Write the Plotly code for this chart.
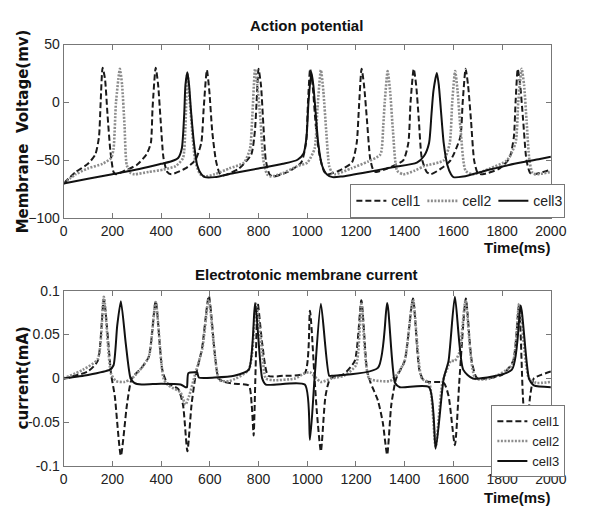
import plotly.graph_objects as go

# ---------------- Action potential (mV) ----------------
t_ap_cell1 = [0, 50, 100, 130, 145, 152, 160, 170, 180, 192, 205, 215, 250, 300, 340, 358, 365, 378, 388, 398, 410, 425, 442,
              500, 540, 565, 575, 588, 598, 610, 625, 640, 655, 720, 770, 785, 792, 800, 810, 820, 830, 845, 860,
              920, 975, 995, 1003, 1012, 1022, 1035, 1050, 1070, 1085, 1130, 1183, 1203, 1212, 1223, 1233, 1245, 1258, 1270, 1282,
              1340, 1394, 1415, 1424, 1437, 1447, 1458, 1470, 1490, 1507, 1550, 1588, 1628, 1638, 1650, 1660, 1672, 1685, 1700, 1720,
              1790, 1830, 1848, 1855, 1864, 1874, 1886, 1900, 1915, 1930, 2000]
v_ap_cell1 = [-70, -60, -53, -45, -30, 0, 30, 20, -10, -42, -60, -62, -59, -54, -45, -35, -5, 30, 15, -15, -48, -60, -62,
              -57, -50, -35, -5, 28, 10, -25, -50, -61, -63, -57, -45, -25, 0, 29, 15, -20, -50, -62, -64,
              -60, -52, -35, 0, 29, 15, -20, -45, -60, -62, -59, -52, -35, -5, 29, 15, -15, -48, -58, -60,
              -56, -50, -35, 0, 29, 15, -15, -48, -60, -62, -57, -50, -30, 0, 29, 15, -15, -50, -61, -62,
              -57, -48, -30, 0, 29, 15, -15, -50, -61, -62, -58]

t_ap_cell2 = [0, 50, 100, 160, 195, 205, 215, 231, 240, 250, 259, 275, 291, 350, 410, 460, 490, 500, 508, 520, 540, 560, 580,
              620, 680, 740, 765, 775, 786, 795, 808, 820, 835, 850, 900, 960, 1000, 1030, 1042, 1056, 1066, 1078, 1090, 1100, 1115,
              1180, 1250, 1300, 1312, 1318, 1330, 1340, 1352, 1369, 1394, 1440, 1480, 1560, 1585, 1595, 1607, 1617, 1630, 1650, 1680,
              1750, 1820, 1855, 1866, 1880, 1890, 1900, 1912, 1925, 1945, 2000]
v_ap_cell2 = [-70, -62, -57, -53, -48, -40, 0, 29, 15, -20, -54, -61, -62, -60, -58, -55, -48, -20, 25, -5, -50, -62, -64,
              -62, -57, -52, -40, -10, 29, 15, -15, -50, -62, -64, -61, -55, -52, -40, -5, 28, 10, -25, -55, -60, -62,
              -57, -51, -45, -20, 0, 27, 10, -25, -59, -62, -59, -55, -50, -35, 0, 27, 10, -25, -59, -62,
              -57, -50, -35, 0, 29, 15, -15, -50, -61, -62, -60]

t_ap_cell3 = [0, 100, 200, 300, 400, 440, 470, 485, 495, 500, 508, 515, 522, 535, 548, 565, 580, 620, 700, 800, 900, 960,
              985, 997, 1005, 1017, 1025, 1033, 1045, 1060, 1080, 1104, 1140, 1250, 1350, 1450, 1480, 1500, 1510, 1518, 1532,
              1540, 1548, 1560, 1575, 1590, 1600, 1640, 1750, 1850, 1950, 2000]
v_ap_cell3 = [-70, -66, -62, -58, -53, -51, -48, -40, -10, 15, 26, 15, -5, -35, -54, -62, -64.5, -64.5, -61, -57, -53, -49.5,
              -44, -30, 0, 26, 15, -5, -35, -54, -62, -64.5, -64, -60, -56, -52, -46, -35, -10, 10, 25.5,
              15, -5, -35, -54, -62, -64.5, -64, -58, -53, -49, -47]

# ---------------- Electrotonic membrane current (mA) ----------------
t_cur_cell1 = [0, 100, 140, 165, 195, 210, 235, 260, 280, 320, 350, 378, 405, 425, 470, 490, 508, 525, 540, 568, 596, 620, 636,
               660, 700, 760, 772, 780, 787, 797, 815, 840, 900, 990, 1011, 1030, 1040, 1056, 1075, 1095, 1150, 1195, 1222,
               1245, 1260, 1290, 1310, 1328, 1345, 1365, 1400, 1434, 1460, 1480, 1560, 1580, 1606, 1625, 1651, 1675, 1698,
               1800, 1845, 1869, 1885, 1898, 1915, 1930, 1960, 2000]
i_cur_cell1 = [0, 0.008, 0.02, 0.09, 0.005, -0.02, -0.088, -0.03, 0.0, 0.012, 0.025, 0.088, 0.01, -0.005, -0.012, -0.03, -0.083, -0.03, 0.0, 0.034, 0.094, 0.03, 0.0,
               -0.004, -0.006, -0.008, -0.03, -0.065, 0.0, 0.085, 0.04, 0.003, 0.003, 0.006, 0.077, 0.0, -0.04, -0.083, -0.02, 0.0, 0.005, 0.02, 0.089,
               0.01, -0.005, -0.025, -0.05, -0.087, -0.03, 0.0, 0.02, 0.091, 0.01, -0.003, -0.005, -0.02, -0.076, 0.0, 0.091, 0.02, 0.0,
               0.004, 0.02, 0.084, -0.02, -0.07, -0.02, 0.0, 0.004, 0.008]

t_cur_cell2 = [0, 80, 140, 165, 195, 215, 250, 280, 320, 350, 378, 410, 430, 480, 500, 515, 540, 570, 596, 640, 680, 760, 790,
               815, 830, 860, 950, 990, 1011, 1056, 1100, 1150, 1200, 1222, 1254, 1300, 1340, 1370, 1400, 1434, 1470, 1500,
               1527, 1555, 1590, 1606, 1625, 1650, 1690, 1750, 1840, 1870, 1910, 1940, 2000]
i_cur_cell2 = [0, 0.01, 0.022, 0.093, 0.005, -0.003, -0.004, 0.0, 0.012, 0.025, 0.087, 0.0, -0.008, -0.016, -0.03, -0.02, 0.005, 0.035, 0.09, -0.002, -0.003, 0.01, 0.085,
               0.03, 0.0, -0.002, 0.0, 0.006, 0.007, -0.004, 0.0, 0.003, 0.015, 0.085, 0.0, -0.003, -0.003, 0.005, 0.02, 0.09, 0.0, -0.005,
               -0.078, -0.005, 0.02, 0.02, 0.03, 0.089, 0.0, 0.0, 0.015, 0.085, 0.0, -0.005, -0.004]

t_cur_cell3 = [0, 100, 190, 205, 220, 235, 255, 275, 290, 320, 400, 480, 500, 506, 512, 540, 548, 555, 620, 700, 760, 786,
               815, 830, 990, 1011, 1030, 1056, 1090, 1100, 1290, 1328, 1360, 1380, 1500, 1527, 1560, 1580, 1606, 1640, 1680,
               1840, 1876, 1910, 1930, 2000]
i_cur_cell3 = [0, 0.004, 0.01, 0.015, 0.06, 0.088, 0.04, 0.0, -0.005, -0.007, -0.006, -0.007, -0.01, -0.01, 0.006, 0.007, 0.007, 0.001, 0.001, 0.003, 0.01, 0.086,
               0.0, -0.007, -0.007, -0.07, 0.0, 0.085, 0.003, 0.003, 0.012, 0.086, -0.005, -0.01, -0.01, -0.08, 0.0, 0.02, 0.093, 0.01, 0.0,
               0.01, 0.083, 0.0, -0.008, -0.01]

x_ticks = [0, 200, 400, 600, 800, 1000, 1200, 1400, 1600, 1800, 2000]
ap_ticks = [-100, -50, 0, 50]
cur_ticks = [-0.1, -0.05, 0, 0.05, 0.1]
cur_tick_text = ["-0.1", "-0.05", "0", "0.05", "0.1"]

styles = {
    "cell1": dict(color="#1a1a1a", width=2, dash="6px,3px"),
    "cell2": dict(color="#8c8c8c", width=2.6, dash="2px,1.5px"),
    "cell3": dict(color="#111111", width=2),
}

fig = go.Figure()
ap = [("cell1", t_ap_cell1, v_ap_cell1), ("cell2", t_ap_cell2, v_ap_cell2), ("cell3", t_ap_cell3, v_ap_cell3)]
cur = [("cell1", t_cur_cell1, i_cur_cell1), ("cell2", t_cur_cell2, i_cur_cell2), ("cell3", t_cur_cell3, i_cur_cell3)]
for name, t, v in ap:
    fig.add_trace(go.Scatter(x=t, y=v, mode="lines", name=name, line=dict(**styles[name], shape="spline", smoothing=0.6),
                             xaxis="x", yaxis="y", legend="legend"))
for name, t, v in cur:
    fig.add_trace(go.Scatter(x=t, y=v, mode="lines", name=name, line=dict(**styles[name], shape="spline", smoothing=0.6),
                             xaxis="x2", yaxis="y2", legend="legend2"))

tickfont = dict(family="Liberation Sans Narrow, Arial Narrow, Liberation Sans, Arial", size=14, color="#222")
legfont = dict(family="Liberation Sans Narrow, Arial Narrow, Liberation Sans, Arial", size=14, color="#222")
legfont2 = dict(family="Liberation Sans Narrow, Arial Narrow, Liberation Sans, Arial", size=13, color="#222")
axis_common = dict(showline=True, linecolor="#777", linewidth=1, mirror="ticks", ticks="inside", ticklen=5,
                   tickcolor="#777", showgrid=False, zeroline=False, tickfont=tickfont)

xd = [61.7 / 592, 566 / 592]
fig.update_layout(
    width=592, height=513, autosize=False,
    margin=dict(l=0, r=0, t=0, b=0),
    paper_bgcolor="white", plot_bgcolor="white",
    xaxis=dict(domain=xd, range=[0, 2000], tickvals=x_ticks, anchor="y", **axis_common),
    yaxis=dict(domain=[1 - 217 / 513, 1 - 37.7 / 513], range=[-100, 50], tickvals=ap_ticks, anchor="x", **axis_common),
    xaxis2=dict(domain=xd, range=[0, 2000], tickvals=x_ticks, anchor="y2", **axis_common),
    yaxis2=dict(domain=[1 - 473 / 513, 1 - 291.7 / 513], range=[-0.1, 0.1], tickvals=cur_ticks, ticktext=cur_tick_text,
                anchor="x2", **axis_common),
    legend=dict(orientation="h", x=581 / 592, y=1 - 217 / 513, xanchor="right", yanchor="bottom",
                bordercolor="#777", borderwidth=1, bgcolor="white", font=legfont, itemwidth=30,
                entrywidth=26, entrywidthmode="pixels", tracegroupgap=0),
    legend2=dict(orientation="v", x=581 / 592, y=1 - 410 / 513, xanchor="right", yanchor="top",
                 bordercolor="#777", borderwidth=1, bgcolor="white", font=legfont2, itemwidth=30,
                 tracegroupgap=0),
    showlegend=True,
)

title_font = dict(family="Liberation Sans Narrow, Arial Narrow, Liberation Sans, Arial", size=15, color="#111")
label_font = dict(family="DejaVu Sans, Arial", size=15, color="#111")
ann = [
    dict(text="<b>Action potential</b>", x=313 / 592, y=1 - 18 / 513, font=title_font),
    dict(text="<b>Electrotonic membrane current</b>", x=313 / 592, y=1 - 275 / 513, font=title_font),
    dict(text="<b>Membrane  Voltage(mv)</b>", x=20 / 592, y=1 - 127 / 513, textangle=-90, font=label_font),
    dict(text="<b>current(mA)</b>", x=20 / 592, y=1 - 382 / 513, textangle=-90, font=label_font),
    dict(text="<b>Time(ms)</b>", x=567 / 592, y=1 - 247 / 513, xanchor="right", font=title_font),
    dict(text="<b>Time(ms)</b>", x=567 / 592, y=1 - 505 / 513, xanchor="right", font=title_font),
]
for a in ann:
    a.setdefault("xanchor", "center")
    fig.add_annotation(xref="paper", yref="paper", showarrow=False, yanchor="middle", **a)

fig.write_html("out.html")
